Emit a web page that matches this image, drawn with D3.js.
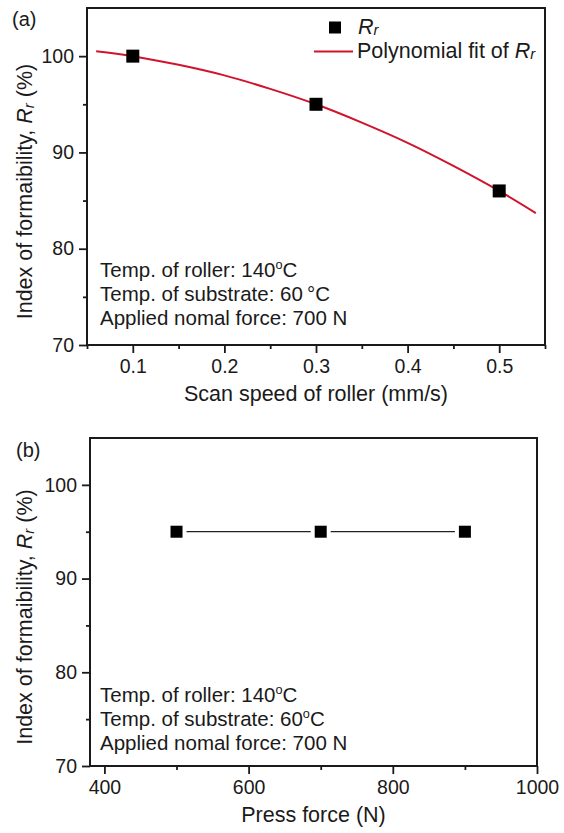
<!DOCTYPE html>
<html>
<head>
<meta charset="utf-8">
<script src="https://cdn.jsdelivr.net/npm/d3@7"></script>
<style>
  body { margin: 0; background: #fff; }
  svg { display: block; font-family: "Liberation Sans", Arial, sans-serif; }
</style>
</head>
<body>
<svg id="chart" width="564" height="833"></svg>
<script>
// panel (a): scan speed
const speedX = [0.1, 0.3, 0.5];
const speedR = [100, 95, 86];
// polynomial fit
const fitX = [0.06, 0.1, 0.15, 0.2, 0.25, 0.3, 0.35, 0.4, 0.45, 0.5, 0.54];
const fitR = [100.5, 100.0, 99.1, 98.0, 96.6, 95.0, 93.1, 91.0, 88.6, 86.0, 83.7];
const speedTicks = [0.1, 0.2, 0.3, 0.4, 0.5];
const speedMinor = [0.05, 0.15, 0.25, 0.35, 0.45, 0.55];

// panel (b): press force
const forceX = [500, 700, 900];
const forceR = [95, 95, 95];
const forceTicks = [400, 600, 800, 1000];
const forceMinor = [500, 700, 900];

const rTicks = [70, 80, 90, 100];
const rMinor = [75, 85, 95];

const notes = [
  ['Temp. of roller: 140', 'o', 'C'],
  ['Temp. of substrate: 60', null, '\u2009°C'],
  ['Applied nomal force: 700 N', null, '']
];
const notesB = [
  ['Temp. of roller: 140', 'o', 'C'],
  ['Temp. of substrate: 60', 'o', 'C'],
  ['Applied nomal force: 700 N', null, '']
];

const svg = d3.select('#chart');
const ink = '#1a1a1a';

function rLabel(sel) {
  sel.append('tspan').text('Index of formaibility, ');
  sel.append('tspan').attr('font-style', 'italic').text('R');
  sel.append('tspan').attr('font-style', 'italic').attr('font-size', '70%').attr('dy', 2).text('r');
  sel.append('tspan').attr('dy', -2).text(' (%)');
}

function drawPanel(p) {
  const x = d3.scaleLinear().domain(p.xDomain).range([p.left, p.right]);
  const y = d3.scaleLinear().domain([70, 105]).range([p.bottom, p.top]);
  const g = svg.append('g');

  // frame
  g.append('rect')
    .attr('x', p.left).attr('y', p.top)
    .attr('width', p.right - p.left).attr('height', p.bottom - p.top)
    .attr('fill', 'none').attr('stroke', ink).attr('stroke-width', 2);

  // x axis
  g.append('g').attr('transform', `translate(0,${p.bottom})`)
    .call(d3.axisBottom(x).tickValues(p.xTicks).tickSize(8).tickPadding(6).tickFormat(p.xFormat));
  g.append('g').attr('transform', `translate(0,${p.bottom})`)
    .call(d3.axisBottom(x).tickValues(p.xMinor).tickSize(4).tickFormat(''));
  // y axis
  g.append('g').attr('transform', `translate(${p.left},0)`)
    .call(d3.axisLeft(y).tickValues(rTicks).tickSize(8).tickPadding(5));
  g.append('g').attr('transform', `translate(${p.left},0)`)
    .call(d3.axisLeft(y).tickValues(rMinor).tickSize(4).tickFormat(''));

  g.selectAll('.domain').remove();
  g.selectAll('.tick line').attr('stroke', ink).attr('stroke-width', 1.8);
  g.selectAll('.tick text').attr('font-size', 19.5).attr('fill', ink).attr('font-family', null);

  // axis titles
  g.append('text')
    .attr('x', (p.left + p.right) / 2).attr('y', p.bottom + 56)
    .attr('text-anchor', 'middle').attr('font-size', 21.5).attr('fill', ink)
    .text(p.xTitle);
  g.append('text')
    .attr('transform', `translate(32,${(p.top + p.bottom) / 2 + 15}) rotate(-90)`)
    .attr('text-anchor', 'middle').attr('font-size', 21.5).attr('fill', ink)
    .call(rLabel);

  // panel letter
  g.append('text').attr('x', p.letterX).attr('y', p.letterY)
    .attr('font-size', 20).attr('fill', ink).text(p.letter);

  // notes
  p.notes.forEach((n, i) => {
    const t = g.append('text').attr('x', 100).attr('y', p.noteY + i * 24)
      .attr('font-size', 20.5).attr('fill', ink);
    t.append('tspan').text(n[0]);
    if (n[1]) {
      t.append('tspan').attr('font-size', '62%').attr('dy', -8).text(n[1]);
      t.append('tspan').attr('dy', 8).text(n[2]);
    } else if (n[2]) {
      t.append('tspan').text(n[2]);
    }
  });

  return { g, x, y };
}

// ---- panel (a)
const a = drawPanel({
  left: 87, right: 545, top: 8, bottom: 345,
  xDomain: [0.05, 0.55], xTicks: speedTicks, xMinor: speedMinor,
  xFormat: d3.format('.1f'),
  xTitle: 'Scan speed of roller (mm/s)',
  letter: '(a)', letterX: 12, letterY: 26,
  notes: notes, noteY: 277
});

const fit = fitX.map((v, i) => [v, fitR[i]]);
a.g.append('path')
  .datum(fit)
  .attr('fill', 'none').attr('stroke', '#d0142c').attr('stroke-width', 2)
  .attr('d', d3.line().x(d => a.x(d[0])).y(d => a.y(d[1])).curve(d3.curveNatural));

a.g.selectAll('.pt')
  .data(speedX.map((v, i) => [v, speedR[i]]))
  .enter().append('rect')
  .attr('x', d => a.x(d[0]) - 6.5).attr('y', d => a.y(d[1]) - 6.5)
  .attr('width', 13).attr('height', 13).attr('fill', '#000');

// legend
const lg = a.g.append('g');
lg.append('rect').attr('x', 329).attr('y', 21.5).attr('width', 12).attr('height', 12).attr('fill', '#000');
lg.append('text').attr('x', 358).attr('y', 34).attr('font-size', 21.5).attr('fill', ink)
  .call(s => {
    s.append('tspan').attr('font-style', 'italic').text('R');
    s.append('tspan').attr('font-style', 'italic').attr('font-size', '70%').attr('dy', 1).text('r');
  });
lg.append('line').attr('x1', 314).attr('x2', 353).attr('y1', 51.5).attr('y2', 51.5)
  .attr('stroke', '#d0142c').attr('stroke-width', 2);
lg.append('text').attr('x', 357).attr('y', 58).attr('font-size', 21.5).attr('fill', ink)
  .call(s => {
    s.append('tspan').text('Polynomial fit of ');
    s.append('tspan').attr('font-style', 'italic').text('R');
    s.append('tspan').attr('font-style', 'italic').attr('font-size', '70%').attr('dy', 1).text('r');
  });

// ---- panel (b)
const b = drawPanel({
  left: 90, right: 537, top: 438, bottom: 766,
  xDomain: [380, 1000], xTicks: forceTicks, xMinor: forceMinor,
  xFormat: d3.format('d'),
  xTitle: 'Press force (N)',
  letter: '(b)', letterX: 16, letterY: 457,
  notes: notesB, noteY: 702
});

const pts = forceX.map((v, i) => [v, forceR[i]]);
const gap = 10;
b.g.selectAll('.seg')
  .data(d3.pairs(pts))
  .enter().append('line')
  .attr('x1', d => b.x(d[0][0]) + gap).attr('x2', d => b.x(d[1][0]) - gap)
  .attr('y1', d => b.y(d[0][1])).attr('y2', d => b.y(d[1][1]))
  .attr('stroke', '#222').attr('stroke-width', 1.3);
b.g.selectAll('.pt')
  .data(pts)
  .enter().append('rect')
  .attr('x', d => b.x(d[0]) - 6).attr('y', d => b.y(d[1]) - 6)
  .attr('width', 12).attr('height', 12).attr('fill', '#000');
</script>
</body>
</html>
